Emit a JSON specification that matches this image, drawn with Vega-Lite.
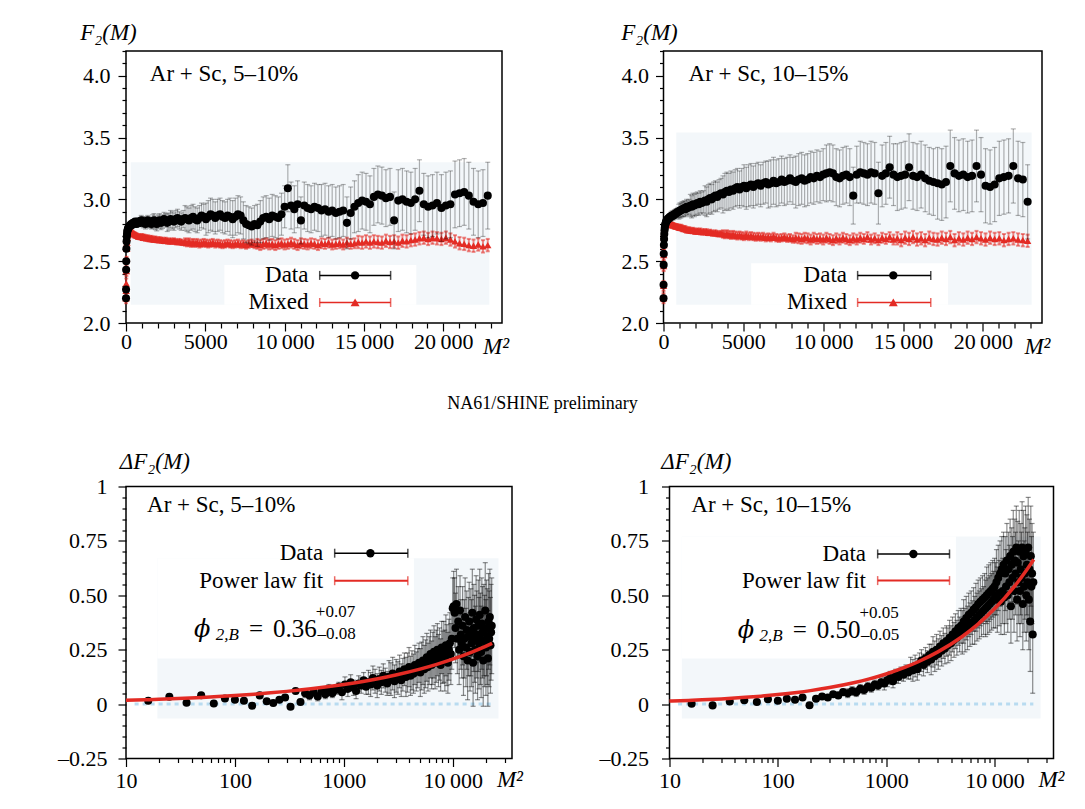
{
"$schema": "https://vega.github.io/schema/vega-lite/v6.json",
"background": "white",
"padding": {"left": 0, "top": 20, "right": 0, "bottom": 0},
"config": {
 "font": "Liberation Serif",
 "view": {"stroke": "black", "strokeWidth": 1.5},
 "axis": {"grid": false, "domain": false, "ticks": true, "tickColor": "black", "tickWidth": 1.2, "labelColor": "black", "labelFontSize": 22, "labelFont": "Liberation Serif", "titleFont": "Liberation Serif", "titleFontSize": 23, "titleFontWeight": "normal", "titleFontStyle": "italic", "titleColor": "black", "labelOverlap": false, "labelFlush": false, "labelBound": false},
 "text": {"font": "Liberation Serif", "fontSize": 23, "color": "black"}
},
"datasets": {
"top": [
{"x":1,"a":2.2,"ae":0.01,"b":2.2,"be":0.04,"c":2.2,"ce":0.01,"d":2.2,"de":0.04},
{"x":4,"a":2.27,"ae":0.01,"b":2.22,"be":0.04,"c":2.31,"ce":0.01,"d":2.3,"de":0.04},
{"x":9,"a":2.43,"ae":0.01,"b":2.26,"be":0.04,"c":2.47,"ce":0.01,"d":2.46,"de":0.04},
{"x":16,"a":2.5,"ae":0.01,"b":2.32,"be":0.04,"c":2.56,"ce":0.01,"d":2.55,"de":0.04},
{"x":25,"a":2.6,"ae":0.01,"b":2.42,"be":0.04,"c":2.63,"ce":0.01,"d":2.63,"de":0.04},
{"x":36,"a":2.66,"ae":0.01,"b":2.52,"be":0.015,"c":2.68,"ce":0.01,"d":2.69,"de":0.015},
{"x":49,"a":2.7,"ae":0.01,"b":2.6,"be":0.015,"c":2.72,"ce":0.01,"d":2.73,"de":0.015},
{"x":64,"a":2.72,"ae":0.01,"b":2.65,"be":0.015,"c":2.75,"ce":0.01,"d":2.76,"de":0.015},
{"x":81,"a":2.74,"ae":0.01,"b":2.69,"be":0.015,"c":2.77,"ce":0.01,"d":2.78,"de":0.015},
{"x":100,"a":2.75,"ae":0.01,"b":2.71,"be":0.015,"c":2.79,"ce":0.01,"d":2.79,"de":0.015},
{"x":121,"a":2.76,"ae":0.015,"b":2.73,"be":0.015,"c":2.8,"ce":0.02,"d":2.8,"de":0.015},
{"x":144,"a":2.77,"ae":0.015,"b":2.74,"be":0.015,"c":2.81,"ce":0.02,"d":2.8,"de":0.015},
{"x":169,"a":2.77,"ae":0.015,"b":2.745,"be":0.015,"c":2.82,"ce":0.02,"d":2.81,"de":0.015},
{"x":196,"a":2.78,"ae":0.015,"b":2.75,"be":0.015,"c":2.83,"ce":0.02,"d":2.81,"de":0.015},
{"x":225,"a":2.78,"ae":0.015,"b":2.75,"be":0.015,"c":2.83,"ce":0.02,"d":2.81,"de":0.015},
{"x":256,"a":2.79,"ae":0.015,"b":2.745,"be":0.015,"c":2.84,"ce":0.02,"d":2.8,"de":0.015},
{"x":289,"a":2.79,"ae":0.015,"b":2.74,"be":0.015,"c":2.84,"ce":0.02,"d":2.81,"de":0.015},
{"x":324,"a":2.8,"ae":0.015,"b":2.74,"be":0.015,"c":2.85,"ce":0.02,"d":2.8,"de":0.015},
{"x":361,"a":2.79,"ae":0.015,"b":2.735,"be":0.015,"c":2.85,"ce":0.02,"d":2.8,"de":0.015},
{"x":400,"a":2.8,"ae":0.015,"b":2.73,"be":0.015,"c":2.86,"ce":0.02,"d":2.8,"de":0.015},
{"x":441,"a":2.81,"ae":0.025,"b":2.725,"be":0.015,"c":2.86,"ce":0.035,"d":2.795,"de":0.015},
{"x":484,"a":2.8,"ae":0.025,"b":2.72,"be":0.015,"c":2.86,"ce":0.035,"d":2.8,"de":0.015},
{"x":529,"a":2.81,"ae":0.025,"b":2.72,"be":0.015,"c":2.87,"ce":0.035,"d":2.79,"de":0.015},
{"x":576,"a":2.82,"ae":0.025,"b":2.715,"be":0.015,"c":2.87,"ce":0.035,"d":2.795,"de":0.015},
{"x":625,"a":2.81,"ae":0.025,"b":2.71,"be":0.015,"c":2.87,"ce":0.035,"d":2.79,"de":0.015},
{"x":676,"a":2.8,"ae":0.025,"b":2.71,"be":0.015,"c":2.88,"ce":0.035,"d":2.79,"de":0.015},
{"x":729,"a":2.82,"ae":0.025,"b":2.705,"be":0.015,"c":2.88,"ce":0.035,"d":2.785,"de":0.015},
{"x":784,"a":2.81,"ae":0.025,"b":2.7,"be":0.015,"c":2.89,"ce":0.035,"d":2.78,"de":0.015},
{"x":841,"a":2.82,"ae":0.025,"b":2.7,"be":0.015,"c":2.89,"ce":0.035,"d":2.785,"de":0.015},
{"x":900,"a":2.81,"ae":0.025,"b":2.7,"be":0.015,"c":2.9,"ce":0.035,"d":2.78,"de":0.015},
{"x":961,"a":2.83,"ae":0.04,"b":2.695,"be":0.02,"c":2.9,"ce":0.06,"d":2.775,"de":0.02},
{"x":1024,"a":2.82,"ae":0.04,"b":2.7,"be":0.02,"c":2.91,"ce":0.06,"d":2.77,"de":0.02},
{"x":1089,"a":2.81,"ae":0.04,"b":2.69,"be":0.02,"c":2.91,"ce":0.06,"d":2.775,"de":0.02},
{"x":1156,"a":2.82,"ae":0.04,"b":2.695,"be":0.02,"c":2.92,"ce":0.06,"d":2.77,"de":0.02},
{"x":1225,"a":2.8,"ae":0.04,"b":2.69,"be":0.02,"c":2.92,"ce":0.06,"d":2.765,"de":0.02},
{"x":1296,"a":2.81,"ae":0.04,"b":2.685,"be":0.02,"c":2.93,"ce":0.06,"d":2.76,"de":0.02},
{"x":1369,"a":2.83,"ae":0.04,"b":2.69,"be":0.02,"c":2.92,"ce":0.06,"d":2.765,"de":0.02},
{"x":1444,"a":2.82,"ae":0.04,"b":2.685,"be":0.02,"c":2.94,"ce":0.06,"d":2.755,"de":0.02},
{"x":1521,"a":2.81,"ae":0.04,"b":2.68,"be":0.02,"c":2.93,"ce":0.06,"d":2.75,"de":0.02},
{"x":1600,"a":2.8,"ae":0.04,"b":2.685,"be":0.02,"c":2.94,"ce":0.06,"d":2.755,"de":0.02},
{"x":1681,"a":2.82,"ae":0.055,"b":2.68,"be":0.02,"c":2.95,"ce":0.09,"d":2.75,"de":0.02},
{"x":1764,"a":2.83,"ae":0.055,"b":2.675,"be":0.02,"c":2.94,"ce":0.09,"d":2.745,"de":0.02},
{"x":1849,"a":2.81,"ae":0.055,"b":2.68,"be":0.02,"c":2.96,"ce":0.09,"d":2.75,"de":0.02},
{"x":1936,"a":2.8,"ae":0.055,"b":2.675,"be":0.02,"c":2.95,"ce":0.09,"d":2.745,"de":0.02},
{"x":2025,"a":2.82,"ae":0.055,"b":2.67,"be":0.02,"c":2.96,"ce":0.09,"d":2.74,"de":0.02},
{"x":2116,"a":2.83,"ae":0.055,"b":2.675,"be":0.02,"c":2.97,"ce":0.09,"d":2.745,"de":0.02},
{"x":2209,"a":2.81,"ae":0.055,"b":2.67,"be":0.02,"c":2.96,"ce":0.09,"d":2.74,"de":0.02},
{"x":2304,"a":2.82,"ae":0.055,"b":2.67,"be":0.02,"c":2.98,"ce":0.09,"d":2.745,"de":0.02},
{"x":2401,"a":2.84,"ae":0.055,"b":2.665,"be":0.02,"c":2.97,"ce":0.09,"d":2.735,"de":0.02},
{"x":2500,"a":2.83,"ae":0.055,"b":2.67,"be":0.02,"c":2.98,"ce":0.09,"d":2.74,"de":0.02},
{"x":2601,"a":2.81,"ae":0.07,"b":2.665,"be":0.02,"c":2.99,"ce":0.12,"d":2.735,"de":0.02},
{"x":2704,"a":2.82,"ae":0.07,"b":2.66,"be":0.02,"c":2.98,"ce":0.12,"d":2.74,"de":0.02},
{"x":2809,"a":2.84,"ae":0.07,"b":2.665,"be":0.02,"c":3.0,"ce":0.12,"d":2.73,"de":0.02},
{"x":2916,"a":2.83,"ae":0.07,"b":2.66,"be":0.02,"c":3.01,"ce":0.12,"d":2.735,"de":0.02},
{"x":3025,"a":2.82,"ae":0.07,"b":2.665,"be":0.02,"c":3.0,"ce":0.12,"d":2.73,"de":0.02},
{"x":3136,"a":2.84,"ae":0.07,"b":2.66,"be":0.02,"c":3.02,"ce":0.12,"d":2.725,"de":0.02},
{"x":3249,"a":2.85,"ae":0.07,"b":2.655,"be":0.02,"c":3.03,"ce":0.12,"d":2.73,"de":0.02},
{"x":3364,"a":2.83,"ae":0.07,"b":2.66,"be":0.02,"c":3.02,"ce":0.12,"d":2.725,"de":0.02},
{"x":3481,"a":2.82,"ae":0.07,"b":2.655,"be":0.02,"c":3.04,"ce":0.12,"d":2.72,"de":0.02},
{"x":3600,"a":2.84,"ae":0.07,"b":2.65,"be":0.02,"c":3.05,"ce":0.12,"d":2.725,"de":0.02},
{"x":3721,"a":2.85,"ae":0.1,"b":2.655,"be":0.03,"c":3.04,"ce":0.15,"d":2.72,"de":0.03},
{"x":3844,"a":2.84,"ae":0.1,"b":2.65,"be":0.03,"c":3.06,"ce":0.15,"d":2.715,"de":0.03},
{"x":3969,"a":2.83,"ae":0.1,"b":2.655,"be":0.03,"c":3.07,"ce":0.15,"d":2.72,"de":0.03},
{"x":4096,"a":2.85,"ae":0.1,"b":2.645,"be":0.03,"c":3.06,"ce":0.15,"d":2.715,"de":0.03},
{"x":4225,"a":2.86,"ae":0.1,"b":2.65,"be":0.03,"c":3.08,"ce":0.15,"d":2.71,"de":0.03},
{"x":4356,"a":2.84,"ae":0.1,"b":2.645,"be":0.03,"c":3.07,"ce":0.15,"d":2.715,"de":0.03},
{"x":4489,"a":2.83,"ae":0.1,"b":2.65,"be":0.03,"c":3.09,"ce":0.15,"d":2.71,"de":0.03},
{"x":4624,"a":2.85,"ae":0.1,"b":2.64,"be":0.03,"c":3.1,"ce":0.15,"d":2.705,"de":0.03},
{"x":4761,"a":2.87,"ae":0.1,"b":2.645,"be":0.03,"c":3.08,"ce":0.15,"d":2.71,"de":0.03},
{"x":4900,"a":2.86,"ae":0.1,"b":2.65,"be":0.03,"c":3.1,"ce":0.15,"d":2.705,"de":0.03},
{"x":5041,"a":2.84,"ae":0.13,"b":2.645,"be":0.03,"c":3.11,"ce":0.17,"d":2.7,"de":0.03},
{"x":5184,"a":2.86,"ae":0.13,"b":2.64,"be":0.03,"c":3.09,"ce":0.17,"d":2.71,"de":0.03},
{"x":5329,"a":2.88,"ae":0.13,"b":2.645,"be":0.03,"c":3.11,"ce":0.17,"d":2.7,"de":0.03},
{"x":5476,"a":2.87,"ae":0.13,"b":2.65,"be":0.03,"c":3.12,"ce":0.17,"d":2.705,"de":0.03},
{"x":5625,"a":2.85,"ae":0.13,"b":2.64,"be":0.03,"c":3.1,"ce":0.17,"d":2.7,"de":0.03},
{"x":5776,"a":2.87,"ae":0.13,"b":2.645,"be":0.03,"c":3.12,"ce":0.17,"d":2.695,"de":0.03},
{"x":5929,"a":2.88,"ae":0.13,"b":2.64,"be":0.03,"c":3.13,"ce":0.17,"d":2.7,"de":0.03},
{"x":6084,"a":2.86,"ae":0.13,"b":2.635,"be":0.03,"c":3.11,"ce":0.17,"d":2.695,"de":0.03},
{"x":6241,"a":2.85,"ae":0.13,"b":2.64,"be":0.03,"c":3.13,"ce":0.17,"d":2.7,"de":0.03},
{"x":6400,"a":2.87,"ae":0.13,"b":2.645,"be":0.03,"c":3.14,"ce":0.17,"d":2.69,"de":0.03},
{"x":6561,"a":2.86,"ae":0.15,"b":2.64,"be":0.03,"c":3.12,"ce":0.19,"d":2.695,"de":0.03},
{"x":6724,"a":2.84,"ae":0.15,"b":2.635,"be":0.03,"c":3.13,"ce":0.19,"d":2.69,"de":0.03},
{"x":6889,"a":2.86,"ae":0.15,"b":2.64,"be":0.03,"c":3.15,"ce":0.19,"d":2.7,"de":0.03},
{"x":7056,"a":2.88,"ae":0.15,"b":2.645,"be":0.03,"c":3.13,"ce":0.19,"d":2.69,"de":0.03},
{"x":7225,"a":2.87,"ae":0.15,"b":2.635,"be":0.03,"c":3.14,"ce":0.19,"d":2.685,"de":0.03},
{"x":7396,"a":2.83,"ae":0.15,"b":2.64,"be":0.03,"c":3.16,"ce":0.19,"d":2.69,"de":0.03},
{"x":7569,"a":2.8,"ae":0.15,"b":2.63,"be":0.03,"c":3.14,"ce":0.19,"d":2.695,"de":0.03},
{"x":7744,"a":2.79,"ae":0.15,"b":2.64,"be":0.03,"c":3.15,"ce":0.19,"d":2.685,"de":0.03},
{"x":7921,"a":2.78,"ae":0.15,"b":2.645,"be":0.03,"c":3.17,"ce":0.19,"d":2.69,"de":0.03},
{"x":8100,"a":2.8,"ae":0.15,"b":2.635,"be":0.03,"c":3.15,"ce":0.19,"d":2.68,"de":0.03},
{"x":8281,"a":2.79,"ae":0.17,"b":2.64,"be":0.04,"c":3.14,"ce":0.21,"d":2.69,"de":0.04},
{"x":8464,"a":2.82,"ae":0.17,"b":2.63,"be":0.04,"c":3.16,"ce":0.21,"d":2.685,"de":0.04},
{"x":8649,"a":2.85,"ae":0.17,"b":2.64,"be":0.04,"c":3.17,"ce":0.21,"d":2.68,"de":0.04},
{"x":8836,"a":2.86,"ae":0.17,"b":2.645,"be":0.04,"c":3.15,"ce":0.21,"d":2.69,"de":0.04},
{"x":9025,"a":2.84,"ae":0.17,"b":2.635,"be":0.04,"c":3.16,"ce":0.21,"d":2.685,"de":0.04},
{"x":9216,"a":2.87,"ae":0.17,"b":2.64,"be":0.04,"c":3.18,"ce":0.21,"d":2.675,"de":0.04},
{"x":9409,"a":2.86,"ae":0.17,"b":2.63,"be":0.04,"c":3.17,"ce":0.21,"d":2.69,"de":0.04},
{"x":9604,"a":2.85,"ae":0.17,"b":2.64,"be":0.04,"c":3.19,"ce":0.21,"d":2.68,"de":0.04},
{"x":9801,"a":2.88,"ae":0.17,"b":2.645,"be":0.04,"c":3.18,"ce":0.21,"d":2.685,"de":0.04},
{"x":10000,"a":2.94,"ae":0.17,"b":2.635,"be":0.04,"c":3.2,"ce":0.21,"d":2.675,"de":0.04},
{"x":10201,"a":3.09,"ae":0.19,"b":2.64,"be":0.04,"c":3.21,"ce":0.23,"d":2.69,"de":0.04},
{"x":10404,"a":2.95,"ae":0.19,"b":2.65,"be":0.04,"c":3.22,"ce":0.23,"d":2.68,"de":0.04},
{"x":10609,"a":2.92,"ae":0.19,"b":2.64,"be":0.04,"c":3.21,"ce":0.23,"d":2.67,"de":0.04},
{"x":10816,"a":2.96,"ae":0.19,"b":2.63,"be":0.04,"c":3.18,"ce":0.23,"d":2.685,"de":0.04},
{"x":11025,"a":2.83,"ae":0.19,"b":2.645,"be":0.04,"c":3.17,"ce":0.23,"d":2.675,"de":0.04},
{"x":11236,"a":2.95,"ae":0.19,"b":2.64,"be":0.04,"c":3.19,"ce":0.23,"d":2.69,"de":0.04},
{"x":11449,"a":2.93,"ae":0.19,"b":2.635,"be":0.04,"c":3.2,"ce":0.23,"d":2.68,"de":0.04},
{"x":11664,"a":2.92,"ae":0.19,"b":2.645,"be":0.04,"c":3.18,"ce":0.23,"d":2.67,"de":0.04},
{"x":11881,"a":2.94,"ae":0.19,"b":2.64,"be":0.04,"c":3.03,"ce":0.23,"d":2.685,"de":0.04},
{"x":12100,"a":2.93,"ae":0.19,"b":2.63,"be":0.04,"c":3.2,"ce":0.23,"d":2.675,"de":0.04},
{"x":12321,"a":2.91,"ae":0.21,"b":2.645,"be":0.04,"c":3.22,"ce":0.25,"d":2.69,"de":0.04},
{"x":12544,"a":2.92,"ae":0.21,"b":2.64,"be":0.04,"c":3.21,"ce":0.25,"d":2.68,"de":0.04},
{"x":12769,"a":2.9,"ae":0.21,"b":2.65,"be":0.04,"c":3.2,"ce":0.25,"d":2.695,"de":0.04},
{"x":12996,"a":2.91,"ae":0.21,"b":2.635,"be":0.04,"c":3.22,"ce":0.25,"d":2.675,"de":0.04},
{"x":13225,"a":2.89,"ae":0.21,"b":2.64,"be":0.04,"c":3.21,"ce":0.25,"d":2.685,"de":0.04},
{"x":13456,"a":2.9,"ae":0.21,"b":2.645,"be":0.04,"c":3.05,"ce":0.25,"d":2.67,"de":0.04},
{"x":13689,"a":2.91,"ae":0.21,"b":2.635,"be":0.04,"c":3.19,"ce":0.25,"d":2.69,"de":0.04},
{"x":13924,"a":2.81,"ae":0.21,"b":2.65,"be":0.04,"c":3.21,"ce":0.25,"d":2.68,"de":0.04},
{"x":14161,"a":2.89,"ae":0.21,"b":2.64,"be":0.04,"c":3.26,"ce":0.25,"d":2.695,"de":0.04},
{"x":14400,"a":2.94,"ae":0.21,"b":2.645,"be":0.04,"c":3.2,"ce":0.25,"d":2.675,"de":0.04},
{"x":14641,"a":2.97,"ae":0.23,"b":2.655,"be":0.05,"c":3.18,"ce":0.27,"d":2.685,"de":0.05},
{"x":14884,"a":2.99,"ae":0.23,"b":2.65,"be":0.05,"c":3.19,"ce":0.27,"d":2.67,"de":0.05},
{"x":15129,"a":2.98,"ae":0.23,"b":2.66,"be":0.05,"c":3.2,"ce":0.27,"d":2.69,"de":0.05},
{"x":15376,"a":2.96,"ae":0.23,"b":2.65,"be":0.05,"c":3.26,"ce":0.27,"d":2.68,"de":0.05},
{"x":15625,"a":3.02,"ae":0.23,"b":2.66,"be":0.05,"c":3.19,"ce":0.27,"d":2.695,"de":0.05},
{"x":15876,"a":3.04,"ae":0.23,"b":2.655,"be":0.05,"c":3.18,"ce":0.27,"d":2.675,"de":0.05},
{"x":16129,"a":3.03,"ae":0.23,"b":2.65,"be":0.05,"c":3.2,"ce":0.27,"d":2.685,"de":0.05},
{"x":16384,"a":3.01,"ae":0.23,"b":2.665,"be":0.05,"c":3.17,"ce":0.27,"d":2.67,"de":0.05},
{"x":16641,"a":3.02,"ae":0.23,"b":2.655,"be":0.05,"c":3.15,"ce":0.27,"d":2.69,"de":0.05},
{"x":16900,"a":2.83,"ae":0.23,"b":2.66,"be":0.05,"c":3.14,"ce":0.27,"d":2.68,"de":0.05},
{"x":17161,"a":2.99,"ae":0.25,"b":2.65,"be":0.05,"c":3.13,"ce":0.29,"d":2.675,"de":0.05},
{"x":17424,"a":3.0,"ae":0.25,"b":2.665,"be":0.05,"c":3.12,"ce":0.29,"d":2.69,"de":0.05},
{"x":17689,"a":2.98,"ae":0.25,"b":2.66,"be":0.05,"c":3.14,"ce":0.29,"d":2.68,"de":0.05},
{"x":17956,"a":2.97,"ae":0.25,"b":2.67,"be":0.05,"c":3.27,"ce":0.29,"d":2.695,"de":0.05},
{"x":18225,"a":3.0,"ae":0.25,"b":2.675,"be":0.05,"c":3.21,"ce":0.29,"d":2.67,"de":0.05},
{"x":18496,"a":3.07,"ae":0.25,"b":2.685,"be":0.05,"c":3.19,"ce":0.29,"d":2.685,"de":0.05},
{"x":18769,"a":2.96,"ae":0.25,"b":2.69,"be":0.05,"c":3.2,"ce":0.29,"d":2.675,"de":0.05},
{"x":19044,"a":2.94,"ae":0.25,"b":2.68,"be":0.05,"c":3.18,"ce":0.29,"d":2.69,"de":0.05},
{"x":19321,"a":2.95,"ae":0.25,"b":2.69,"be":0.05,"c":3.19,"ce":0.29,"d":2.68,"de":0.05},
{"x":19600,"a":2.97,"ae":0.25,"b":2.685,"be":0.05,"c":3.27,"ce":0.29,"d":2.695,"de":0.05},
{"x":19881,"a":2.93,"ae":0.27,"b":2.68,"be":0.05,"c":3.2,"ce":0.3,"d":2.685,"de":0.05},
{"x":20164,"a":2.95,"ae":0.27,"b":2.69,"be":0.05,"c":3.11,"ce":0.3,"d":2.675,"de":0.05},
{"x":20449,"a":2.96,"ae":0.27,"b":2.675,"be":0.05,"c":3.1,"ce":0.3,"d":2.69,"de":0.05},
{"x":20736,"a":3.04,"ae":0.27,"b":2.66,"be":0.05,"c":3.12,"ce":0.3,"d":2.68,"de":0.05},
{"x":21025,"a":3.05,"ae":0.27,"b":2.645,"be":0.05,"c":3.17,"ce":0.3,"d":2.685,"de":0.05},
{"x":21316,"a":3.06,"ae":0.27,"b":2.64,"be":0.05,"c":3.18,"ce":0.3,"d":2.67,"de":0.05},
{"x":21609,"a":3.03,"ae":0.27,"b":2.63,"be":0.05,"c":3.19,"ce":0.3,"d":2.68,"de":0.05},
{"x":21904,"a":2.98,"ae":0.27,"b":2.625,"be":0.05,"c":3.27,"ce":0.3,"d":2.685,"de":0.05},
{"x":22201,"a":2.96,"ae":0.27,"b":2.635,"be":0.05,"c":3.17,"ce":0.3,"d":2.675,"de":0.05},
{"x":22500,"a":2.97,"ae":0.27,"b":2.62,"be":0.05,"c":3.16,"ce":0.3,"d":2.67,"de":0.05},
{"x":22801,"a":3.03,"ae":0.27,"b":2.63,"be":0.05,"c":2.98,"ce":0.3,"d":2.665,"de":0.05}
],
"bot": [
{"x":16,"f":0.015,"fe":0.012,"g":0.002,"ge":0.012},
{"x":25,"f":0.034,"fe":0.012,"g":-0.006,"ge":0.012},
{"x":36,"f":0.006,"fe":0.012,"g":0.012,"ge":0.012},
{"x":49,"f":0.041,"fe":0.012,"g":0.018,"ge":0.012},
{"x":64,"f":0.003,"fe":0.012,"g":0.01,"ge":0.012},
{"x":81,"f":0.026,"fe":0.012,"g":0.022,"ge":0.012},
{"x":100,"f":0.02,"fe":0.012,"g":0.015,"ge":0.012},
{"x":121,"f":0.015,"fe":0.012,"g":0.025,"ge":0.012},
{"x":144,"f":-0.008,"fe":0.012,"g":0.02,"ge":0.012},
{"x":169,"f":0.04,"fe":0.012,"g":0.03,"ge":0.012},
{"x":196,"f":0.013,"fe":0.012,"g":-0.005,"ge":0.012},
{"x":225,"f":0.005,"fe":0.012,"g":0.025,"ge":0.012},
{"x":256,"f":0.02,"fe":0.012,"g":0.035,"ge":0.012},
{"x":289,"f":0.03,"fe":0.012,"g":0.03,"ge":0.012},
{"x":324,"f":-0.012,"fe":0.012,"g":0.045,"ge":0.012},
{"x":361,"f":0.06,"fe":0.012,"g":0.04,"ge":0.012},
{"x":400,"f":0.01,"fe":0.012,"g":0.055,"ge":0.012},
{"x":441,"f":0.05,"fe":0.02,"g":0.05,"ge":0.02},
{"x":484,"f":0.04,"fe":0.02,"g":0.06,"ge":0.02},
{"x":529,"f":0.055,"fe":0.02,"g":0.055,"ge":0.02},
{"x":576,"f":0.035,"fe":0.02,"g":0.07,"ge":0.02},
{"x":625,"f":0.06,"fe":0.02,"g":0.065,"ge":0.02},
{"x":676,"f":0.045,"fe":0.02,"g":0.08,"ge":0.02},
{"x":729,"f":0.07,"fe":0.02,"g":0.075,"ge":0.02},
{"x":784,"f":0.05,"fe":0.02,"g":0.09,"ge":0.02},
{"x":841,"f":0.065,"fe":0.02,"g":0.085,"ge":0.02},
{"x":900,"f":0.08,"fe":0.02,"g":0.1,"ge":0.02},
{"x":961,"f":0.055,"fe":0.035,"g":0.095,"ge":0.03},
{"x":1024,"f":0.09,"fe":0.035,"g":0.11,"ge":0.03},
{"x":1089,"f":0.07,"fe":0.035,"g":0.12,"ge":0.03},
{"x":1156,"f":0.1,"fe":0.035,"g":0.105,"ge":0.03},
{"x":1225,"f":0.075,"fe":0.035,"g":0.13,"ge":0.03},
{"x":1296,"f":0.06,"fe":0.035,"g":0.125,"ge":0.03},
{"x":1369,"f":0.095,"fe":0.035,"g":0.14,"ge":0.03},
{"x":1444,"f":0.085,"fe":0.035,"g":0.135,"ge":0.03},
{"x":1521,"f":0.11,"fe":0.035,"g":0.15,"ge":0.03},
{"x":1600,"f":0.08,"fe":0.035,"g":0.145,"ge":0.03},
{"x":1681,"f":0.1,"fe":0.055,"g":0.165,"ge":0.05},
{"x":1764,"f":0.09,"fe":0.055,"g":0.155,"ge":0.05},
{"x":1849,"f":0.12,"fe":0.055,"g":0.175,"ge":0.05},
{"x":1936,"f":0.105,"fe":0.055,"g":0.16,"ge":0.05},
{"x":2025,"f":0.085,"fe":0.055,"g":0.185,"ge":0.05},
{"x":2116,"f":0.115,"fe":0.055,"g":0.2,"ge":0.05},
{"x":2209,"f":0.1,"fe":0.055,"g":0.18,"ge":0.05},
{"x":2304,"f":0.13,"fe":0.055,"g":0.21,"ge":0.05},
{"x":2401,"f":0.11,"fe":0.055,"g":0.195,"ge":0.05},
{"x":2500,"f":0.095,"fe":0.055,"g":0.225,"ge":0.05},
{"x":2601,"f":0.125,"fe":0.075,"g":0.205,"ge":0.07},
{"x":2704,"f":0.115,"fe":0.075,"g":0.24,"ge":0.07},
{"x":2809,"f":0.14,"fe":0.075,"g":0.22,"ge":0.07},
{"x":2916,"f":0.105,"fe":0.075,"g":0.25,"ge":0.07},
{"x":3025,"f":0.13,"fe":0.075,"g":0.23,"ge":0.07},
{"x":3136,"f":0.12,"fe":0.075,"g":0.265,"ge":0.07},
{"x":3249,"f":0.15,"fe":0.075,"g":0.245,"ge":0.07},
{"x":3364,"f":0.11,"fe":0.075,"g":0.28,"ge":0.07},
{"x":3481,"f":0.135,"fe":0.075,"g":0.255,"ge":0.07},
{"x":3600,"f":0.16,"fe":0.075,"g":0.29,"ge":0.07},
{"x":3721,"f":0.125,"fe":0.09,"g":0.27,"ge":0.08},
{"x":3844,"f":0.145,"fe":0.09,"g":0.305,"ge":0.08},
{"x":3969,"f":0.17,"fe":0.09,"g":0.28,"ge":0.08},
{"x":4096,"f":0.13,"fe":0.09,"g":0.32,"ge":0.08},
{"x":4225,"f":0.155,"fe":0.09,"g":0.295,"ge":0.08},
{"x":4356,"f":0.14,"fe":0.09,"g":0.335,"ge":0.08},
{"x":4489,"f":0.18,"fe":0.09,"g":0.305,"ge":0.08},
{"x":4624,"f":0.15,"fe":0.09,"g":0.35,"ge":0.08},
{"x":4761,"f":0.165,"fe":0.09,"g":0.32,"ge":0.08},
{"x":4900,"f":0.19,"fe":0.09,"g":0.36,"ge":0.08},
{"x":5041,"f":0.145,"fe":0.11,"g":0.33,"ge":0.1},
{"x":5184,"f":0.175,"fe":0.11,"g":0.38,"ge":0.1},
{"x":5329,"f":0.2,"fe":0.11,"g":0.34,"ge":0.1},
{"x":5476,"f":0.16,"fe":0.11,"g":0.395,"ge":0.1},
{"x":5625,"f":0.185,"fe":0.11,"g":0.35,"ge":0.1},
{"x":5776,"f":0.215,"fe":0.11,"g":0.41,"ge":0.1},
{"x":5929,"f":0.17,"fe":0.11,"g":0.365,"ge":0.1},
{"x":6084,"f":0.2,"fe":0.11,"g":0.42,"ge":0.1},
{"x":6241,"f":0.23,"fe":0.11,"g":0.375,"ge":0.1},
{"x":6400,"f":0.18,"fe":0.11,"g":0.435,"ge":0.1},
{"x":6561,"f":0.21,"fe":0.12,"g":0.385,"ge":0.11},
{"x":6724,"f":0.24,"fe":0.12,"g":0.445,"ge":0.11},
{"x":6889,"f":0.19,"fe":0.12,"g":0.4,"ge":0.11},
{"x":7056,"f":0.22,"fe":0.12,"g":0.46,"ge":0.11},
{"x":7225,"f":0.25,"fe":0.12,"g":0.41,"ge":0.11},
{"x":7396,"f":0.2,"fe":0.12,"g":0.47,"ge":0.11},
{"x":7569,"f":0.23,"fe":0.12,"g":0.42,"ge":0.11},
{"x":7744,"f":0.18,"fe":0.12,"g":0.48,"ge":0.11},
{"x":7921,"f":0.26,"fe":0.12,"g":0.43,"ge":0.11},
{"x":8100,"f":0.215,"fe":0.12,"g":0.49,"ge":0.11},
{"x":8281,"f":0.24,"fe":0.14,"g":0.44,"ge":0.13},
{"x":8464,"f":0.2,"fe":0.14,"g":0.5,"ge":0.13},
{"x":8649,"f":0.27,"fe":0.14,"g":0.45,"ge":0.13},
{"x":8836,"f":0.225,"fe":0.14,"g":0.51,"ge":0.13},
{"x":9025,"f":0.19,"fe":0.14,"g":0.46,"ge":0.13},
{"x":9216,"f":0.25,"fe":0.14,"g":0.52,"ge":0.13},
{"x":9409,"f":0.28,"fe":0.14,"g":0.47,"ge":0.13},
{"x":9604,"f":0.23,"fe":0.14,"g":0.53,"ge":0.13},
{"x":9801,"f":0.3,"fe":0.14,"g":0.48,"ge":0.13},
{"x":10000,"f":0.44,"fe":0.14,"g":0.54,"ge":0.13},
{"x":10201,"f":0.45,"fe":0.16,"g":0.5,"ge":0.15},
{"x":10404,"f":0.42,"fe":0.16,"g":0.56,"ge":0.15},
{"x":10609,"f":0.35,"fe":0.16,"g":0.48,"ge":0.15},
{"x":10816,"f":0.46,"fe":0.16,"g":0.58,"ge":0.15},
{"x":11025,"f":0.3,"fe":0.16,"g":0.51,"ge":0.15},
{"x":11236,"f":0.38,"fe":0.16,"g":0.6,"ge":0.15},
{"x":11449,"f":0.25,"fe":0.16,"g":0.47,"ge":0.15},
{"x":11664,"f":0.43,"fe":0.16,"g":0.62,"ge":0.15},
{"x":11881,"f":0.32,"fe":0.16,"g":0.52,"ge":0.15},
{"x":12100,"f":0.28,"fe":0.16,"g":0.64,"ge":0.15},
{"x":12321,"f":0.36,"fe":0.18,"g":0.49,"ge":0.17},
{"x":12544,"f":0.22,"fe":0.18,"g":0.6,"ge":0.17},
{"x":12769,"f":0.3,"fe":0.18,"g":0.54,"ge":0.17},
{"x":12996,"f":0.4,"fe":0.18,"g":0.66,"ge":0.17},
{"x":13225,"f":0.26,"fe":0.18,"g":0.5,"ge":0.17},
{"x":13456,"f":0.34,"fe":0.18,"g":0.62,"ge":0.17},
{"x":13689,"f":0.2,"fe":0.18,"g":0.56,"ge":0.17},
{"x":13924,"f":0.31,"fe":0.18,"g":0.68,"ge":0.17},
{"x":14161,"f":0.38,"fe":0.18,"g":0.45,"ge":0.17},
{"x":14400,"f":0.24,"fe":0.18,"g":0.64,"ge":0.17},
{"x":14641,"f":0.33,"fe":0.2,"g":0.58,"ge":0.19},
{"x":14884,"f":0.28,"fe":0.2,"g":0.7,"ge":0.19},
{"x":15129,"f":0.42,"fe":0.2,"g":0.52,"ge":0.19},
{"x":15376,"f":0.19,"fe":0.2,"g":0.66,"ge":0.19},
{"x":15625,"f":0.35,"fe":0.2,"g":0.6,"ge":0.19},
{"x":15876,"f":0.3,"fe":0.2,"g":0.72,"ge":0.19},
{"x":16129,"f":0.25,"fe":0.2,"g":0.48,"ge":0.19},
{"x":16384,"f":0.39,"fe":0.2,"g":0.65,"ge":0.19},
{"x":16641,"f":0.32,"fe":0.2,"g":0.56,"ge":0.19},
{"x":16900,"f":0.22,"fe":0.2,"g":0.7,"ge":0.19},
{"x":17161,"f":0.36,"fe":0.21,"g":0.52,"ge":0.21},
{"x":17424,"f":0.28,"fe":0.21,"g":0.62,"ge":0.21},
{"x":17689,"f":0.41,"fe":0.21,"g":0.58,"ge":0.21},
{"x":17956,"f":0.3,"fe":0.21,"g":0.72,"ge":0.21},
{"x":18225,"f":0.24,"fe":0.21,"g":0.46,"ge":0.21},
{"x":18496,"f":0.37,"fe":0.21,"g":0.68,"ge":0.21},
{"x":18769,"f":0.33,"fe":0.21,"g":0.54,"ge":0.21},
{"x":19044,"f":0.2,"fe":0.21,"g":0.6,"ge":0.21},
{"x":19321,"f":0.34,"fe":0.21,"g":0.7,"ge":0.21},
{"x":19600,"f":0.29,"fe":0.21,"g":0.5,"ge":0.21},
{"x":19881,"f":0.43,"fe":0.22,"g":0.64,"ge":0.23},
{"x":20164,"f":0.26,"fe":0.22,"g":0.56,"ge":0.23},
{"x":20449,"f":0.35,"fe":0.22,"g":0.72,"ge":0.23},
{"x":20736,"f":0.31,"fe":0.22,"g":0.48,"ge":0.23},
{"x":21025,"f":0.21,"fe":0.22,"g":0.62,"ge":0.23},
{"x":21316,"f":0.38,"fe":0.22,"g":0.38,"ge":0.23},
{"x":21609,"f":0.3,"fe":0.22,"g":0.68,"ge":0.23},
{"x":21904,"f":0.4,"fe":0.22,"g":0.54,"ge":0.23},
{"x":22201,"f":0.27,"fe":0.22,"g":0.6,"ge":0.23},
{"x":22500,"f":0.33,"fe":0.22,"g":0.32,"ge":0.27},
{"x":22801,"f":0.36,"fe":0.22,"g":0.56,"ge":0.23}
],
"fitL": [
{"x":10,"y":0.0172},{"x":15,"y":0.0199},{"x":20,"y":0.0221},{"x":30,"y":0.0255},{"x":50,"y":0.0307},{"x":70,"y":0.0346},{"x":100,"y":0.0394},{"x":150,"y":0.0456},{"x":200,"y":0.0505},{"x":300,"y":0.0585},{"x":500,"y":0.0703},{"x":700,"y":0.0793},{"x":1000,"y":0.0902},{"x":1500,"y":0.1043},{"x":2000,"y":0.1157},{"x":3000,"y":0.1339},{"x":5000,"y":0.161},{"x":7000,"y":0.1817},{"x":10000,"y":0.2066},{"x":15000,"y":0.239},{"x":20000,"y":0.265},{"x":23000,"y":0.279}
],
"fitR": [
{"x":10,"y":0.0139},{"x":15,"y":0.017},{"x":20,"y":0.0196},{"x":30,"y":0.024},{"x":50,"y":0.031},{"x":70,"y":0.0366},{"x":100,"y":0.0438},{"x":150,"y":0.0536},{"x":200,"y":0.0619},{"x":300,"y":0.0759},{"x":500,"y":0.0979},{"x":700,"y":0.1159},{"x":1000,"y":0.1385},{"x":1500,"y":0.1696},{"x":2000,"y":0.1959},{"x":3000,"y":0.2399},{"x":5000,"y":0.3097},{"x":7000,"y":0.3665},{"x":10000,"y":0.438},{"x":15000,"y":0.5364},{"x":20000,"y":0.6194},{"x":23000,"y":0.6643}
]
},
"columns": 1,
"align": "none",
"spacing": 36.5,
"concat": [
{
 "hconcat": [
  {
   "width": 376, "height": 272,
   "layer": [
    {"data": {"values": [{}]}, "mark": {"type": "rect", "color": "#f3f7fa"}, "encoding": {"x": {"datum": 300}, "x2": {"datum": 22900}, "y": {"datum": 2.147}, "y2": {"datum": 3.3}}},
    {"data": {"values": [{}]}, "mark": {"type": "rect", "color": "white"}, "encoding": {"x": {"datum": 6200}, "x2": {"datum": 18300}, "y": {"datum": 2.147}, "y2": {"datum": 2.47}}},
    {"data": {"name": "top"}, "mark": {"type": "errorbar", "color": "#e32b24", "size": 4, "thickness": 2, "ticks": {"opacity": 0.55}, "rule": {"opacity": 0.55}}, "encoding": {"x": {"field": "x", "type": "quantitative", "title": "M²"}, "y": {"field": "b", "type": "quantitative", "title": "F₂(M)"}, "yError": {"field": "be"}}},
    {"data": {"name": "top"}, "mark": {"type": "point", "shape": "triangle-up", "filled": true, "color": "#e32b24", "size": 55, "opacity": 1}, "encoding": {"x": {"field": "x", "type": "quantitative", "title": "M²"}, "y": {"field": "b", "type": "quantitative", "title": "F₂(M)"}}},
    {"data": {"name": "top"}, "mark": {"type": "errorbar", "color": "black", "size": 5, "thickness": 1.2, "ticks": {"opacity": 0.3}, "rule": {"opacity": 0.3}}, "encoding": {"x": {"field": "x", "type": "quantitative", "title": "M²"}, "y": {"field": "a", "type": "quantitative", "title": "F₂(M)"}, "yError": {"field": "ae"}}},
    {"data": {"name": "top"}, "mark": {"type": "circle", "color": "black", "size": 65, "opacity": 1},
     "encoding": {
      "x": {"field": "x", "type": "quantitative", "scale": {"domain": [0, 23700], "nice": false, "zero": false},
            "axis": {"values": [0,1000,2000,3000,4000,5000,6000,7000,8000,9000,10000,11000,12000,13000,14000,15000,16000,17000,18000,19000,20000,21000,22000,23000], "tickCount": 100,
                     "labelExpr": "datum.value % 5000 != 0 ? '' : datum.value >= 10000 ? floor(datum.value / 1000) + '\u2009000' : '' + datum.value",
                     "tickSize": {"condition": {"test": "datum.value % 5000 == 0", "value": 8}, "value": 5},
                     "labelOverlap": false, "labelPadding": 0, "minExtent": 40, "maxExtent": 40,
                     "title": "M²", "titleX": 356.5, "titleY": 30, "titleAlign": "left", "titleBaseline": "alphabetic", "titleAngle": 0}},
      "y": {"field": "a", "type": "quantitative", "scale": {"domain": [2, 4.2], "nice": false, "zero": false},
            "axis": {"values": [2,2.1,2.2,2.3,2.4,2.5,2.6,2.7,2.8,2.9,3,3.1,3.2,3.3,3.4,3.5,3.6,3.7,3.8,3.9,4,4.1,4.2], "tickCount": 100,
                     "labelExpr": "abs(datum.value*2 - round(datum.value*2)) < 1e-6 ? format(datum.value, '.1f') : ''",
                     "tickSize": {"condition": {"test": "abs(datum.value*2 - round(datum.value*2)) < 1e-6", "value": 8}, "value": 4},
                     "labelOverlap": false, "labelPadding": 8, "minExtent": 125, "maxExtent": 125,
                     "title": "F₂(M)", "titleX": -46.3, "titleY": -12, "titleAlign": "left", "titleBaseline": "alphabetic", "titleAngle": 0}}
     }},
    {"data": {"values": [{}]}, "mark": {"type": "rule", "color": "black", "strokeWidth": 1.5}, "encoding": {"x": {"datum": 12210}, "x2": {"datum": 16680}, "y": {"datum": 2.385}}},
    {"data": {"values": [{}]}, "mark": {"type": "tick", "orient": "vertical", "color": "black", "size": 9, "thickness": 1.5}, "encoding": {"x": {"datum": 12210}, "y": {"datum": 2.385}}},
    {"data": {"values": [{}]}, "mark": {"type": "tick", "orient": "vertical", "color": "black", "size": 9, "thickness": 1.5}, "encoding": {"x": {"datum": 16680}, "y": {"datum": 2.385}}},
    {"data": {"values": [{}]}, "mark": {"type": "circle", "color": "black", "size": 70, "opacity": 1}, "encoding": {"x": {"datum": 14440}, "y": {"datum": 2.385}}},
    {"data": {"values": [{}]}, "mark": {"type": "rule", "color": "#e32b24", "strokeWidth": 1.5}, "encoding": {"x": {"datum": 12210}, "x2": {"datum": 16680}, "y": {"datum": 2.166}}},
    {"data": {"values": [{}]}, "mark": {"type": "tick", "orient": "vertical", "color": "#e32b24", "size": 9, "thickness": 1.5}, "encoding": {"x": {"datum": 12210}, "y": {"datum": 2.166}}},
    {"data": {"values": [{}]}, "mark": {"type": "tick", "orient": "vertical", "color": "#e32b24", "size": 9, "thickness": 1.5}, "encoding": {"x": {"datum": 16680}, "y": {"datum": 2.166}}},
    {"data": {"values": [{}]}, "mark": {"type": "point", "shape": "triangle-up", "filled": true, "color": "#e32b24", "size": 80, "opacity": 1}, "encoding": {"x": {"datum": 14440}, "y": {"datum": 2.166}}},
    {"data": {"values": [{}]}, "mark": {"type": "text", "text": "Data", "align": "right", "baseline": "middle"}, "encoding": {"x": {"datum": 11500}, "y": {"datum": 2.385}}},
    {"data": {"values": [{}]}, "mark": {"type": "text", "text": "Mixed", "align": "right", "baseline": "middle"}, "encoding": {"x": {"datum": 11500}, "y": {"datum": 2.166}}},
    {"data": {"values": [{}]}, "mark": {"type": "text", "text": "Ar + Sc, 5–10%", "align": "left", "baseline": "alphabetic"}, "encoding": {"x": {"datum": 1500}, "y": {"datum": 3.96}}}
   ]
  },
  {
   "width": 378.5, "height": 272,
   "layer": [
    {"data": {"values": [{}]}, "mark": {"type": "rect", "color": "#f3f7fa"}, "encoding": {"x": {"datum": 800}, "x2": {"datum": 23050}, "y": {"datum": 2.147}, "y2": {"datum": 3.54}}},
    {"data": {"values": [{}]}, "mark": {"type": "rect", "color": "white"}, "encoding": {"x": {"datum": 5490}, "x2": {"datum": 17820}, "y": {"datum": 2.147}, "y2": {"datum": 2.483}}},
    {"data": {"name": "top"}, "mark": {"type": "errorbar", "color": "#e32b24", "size": 4, "thickness": 2, "ticks": {"opacity": 0.55}, "rule": {"opacity": 0.55}}, "encoding": {"x": {"field": "x", "type": "quantitative", "title": "M²"}, "y": {"field": "d", "type": "quantitative", "title": "F₂(M)"}, "yError": {"field": "de"}}},
    {"data": {"name": "top"}, "mark": {"type": "point", "shape": "triangle-up", "filled": true, "color": "#e32b24", "size": 55, "opacity": 1}, "encoding": {"x": {"field": "x", "type": "quantitative", "title": "M²"}, "y": {"field": "d", "type": "quantitative", "title": "F₂(M)"}}},
    {"data": {"name": "top"}, "mark": {"type": "errorbar", "color": "black", "size": 5, "thickness": 1.2, "ticks": {"opacity": 0.3}, "rule": {"opacity": 0.3}}, "encoding": {"x": {"field": "x", "type": "quantitative", "title": "M²"}, "y": {"field": "c", "type": "quantitative", "title": "F₂(M)"}, "yError": {"field": "ce"}}},
    {"data": {"name": "top"}, "mark": {"type": "circle", "color": "black", "size": 65, "opacity": 1},
     "encoding": {
      "x": {"field": "x", "type": "quantitative", "scale": {"domain": [0, 23700], "nice": false, "zero": false},
            "axis": {"values": [0,1000,2000,3000,4000,5000,6000,7000,8000,9000,10000,11000,12000,13000,14000,15000,16000,17000,18000,19000,20000,21000,22000,23000], "tickCount": 100,
                     "labelExpr": "datum.value % 5000 != 0 ? '' : datum.value >= 10000 ? floor(datum.value / 1000) + '\u2009000' : '' + datum.value",
                     "tickSize": {"condition": {"test": "datum.value % 5000 == 0", "value": 8}, "value": 5},
                     "labelOverlap": false, "labelPadding": 0, "minExtent": 40, "maxExtent": 40,
                     "title": "M²", "titleX": 360.4, "titleY": 30, "titleAlign": "left", "titleBaseline": "alphabetic", "titleAngle": 0}},
      "y": {"field": "c", "type": "quantitative", "scale": {"domain": [2, 4.2], "nice": false, "zero": false},
            "axis": {"values": [2,2.1,2.2,2.3,2.4,2.5,2.6,2.7,2.8,2.9,3,3.1,3.2,3.3,3.4,3.5,3.6,3.7,3.8,3.9,4,4.1,4.2], "tickCount": 100,
                     "labelExpr": "abs(datum.value*2 - round(datum.value*2)) < 1e-6 ? format(datum.value, '.1f') : ''",
                     "tickSize": {"condition": {"test": "abs(datum.value*2 - round(datum.value*2)) < 1e-6", "value": 8}, "value": 4},
                     "labelOverlap": false, "labelPadding": 7, "minExtent": 125, "maxExtent": 125,
                     "title": "F₂(M)", "titleX": -42.8, "titleY": -12, "titleAlign": "left", "titleBaseline": "alphabetic", "titleAngle": 0}}
     }},
    {"data": {"values": [{}]}, "mark": {"type": "rule", "color": "black", "strokeWidth": 1.5}, "encoding": {"x": {"datum": 12155}, "x2": {"datum": 16735}, "y": {"datum": 2.385}}},
    {"data": {"values": [{}]}, "mark": {"type": "tick", "orient": "vertical", "color": "black", "size": 9, "thickness": 1.5}, "encoding": {"x": {"datum": 12155}, "y": {"datum": 2.385}}},
    {"data": {"values": [{}]}, "mark": {"type": "tick", "orient": "vertical", "color": "black", "size": 9, "thickness": 1.5}, "encoding": {"x": {"datum": 16735}, "y": {"datum": 2.385}}},
    {"data": {"values": [{}]}, "mark": {"type": "circle", "color": "black", "size": 70, "opacity": 1}, "encoding": {"x": {"datum": 14390}, "y": {"datum": 2.385}}},
    {"data": {"values": [{}]}, "mark": {"type": "rule", "color": "#e32b24", "strokeWidth": 1.5}, "encoding": {"x": {"datum": 12155}, "x2": {"datum": 16735}, "y": {"datum": 2.166}}},
    {"data": {"values": [{}]}, "mark": {"type": "tick", "orient": "vertical", "color": "#e32b24", "size": 9, "thickness": 1.5}, "encoding": {"x": {"datum": 12155}, "y": {"datum": 2.166}}},
    {"data": {"values": [{}]}, "mark": {"type": "tick", "orient": "vertical", "color": "#e32b24", "size": 9, "thickness": 1.5}, "encoding": {"x": {"datum": 16735}, "y": {"datum": 2.166}}},
    {"data": {"values": [{}]}, "mark": {"type": "point", "shape": "triangle-up", "filled": true, "color": "#e32b24", "size": 80, "opacity": 1}, "encoding": {"x": {"datum": 14390}, "y": {"datum": 2.166}}},
    {"data": {"values": [{}]}, "mark": {"type": "text", "text": "Data", "align": "right", "baseline": "middle"}, "encoding": {"x": {"datum": 11490}, "y": {"datum": 2.385}}},
    {"data": {"values": [{}]}, "mark": {"type": "text", "text": "Mixed", "align": "right", "baseline": "middle"}, "encoding": {"x": {"datum": 11490}, "y": {"datum": 2.166}}},
    {"data": {"values": [{}]}, "mark": {"type": "text", "text": "Ar + Sc, 10–15%", "align": "left", "baseline": "alphabetic"}, "encoding": {"x": {"datum": 1570}, "y": {"datum": 3.96}}}
   ]
  }
 ],
 "spacing": 27.5,
 "title": {"text": "NA61/SHINE preliminary", "orient": "bottom", "anchor": "start", "frame": "bounds", "dx": 447, "offset": 31, "fontSize": 18, "fontWeight": "normal", "font": "Liberation Serif", "color": "black"}
},
{
 "hconcat": [
  {
   "width": 386, "height": 272,
   "layer": [
    {"data": {"values": [{}]}, "mark": {"type": "rect", "color": "#f3f7fa"}, "encoding": {"x": {"datum": 19.4}, "x2": {"datum": 26300}, "y": {"datum": -0.066}, "y2": {"datum": 0.67}}},
    {"data": {"values": [{}]}, "mark": {"type": "rect", "color": "white"}, "encoding": {"x": {"datum": 19.4}, "x2": {"datum": 4400}, "y": {"datum": 0.21}, "y2": {"datum": 0.67}}},
    {"data": {"values": [{}]}, "mark": {"type": "rule", "color": "#a9d3ee", "strokeWidth": 3, "strokeDash": [4, 4], "opacity": 0.8}, "encoding": {"x": {"datum": 12}, "x2": {"datum": 22800}, "y": {"datum": 0}}},
    {"data": {"name": "bot"}, "mark": {"type": "errorbar", "color": "black", "size": 5, "thickness": 1.2, "ticks": {"opacity": 0.45}, "rule": {"opacity": 0.45}}, "encoding": {"x": {"field": "x", "type": "quantitative", "title": "M²"}, "y": {"field": "f", "type": "quantitative", "title": "ΔF₂(M)"}, "yError": {"field": "fe"}}},
    {"data": {"name": "bot"}, "mark": {"type": "circle", "color": "black", "size": 65, "opacity": 1},
     "encoding": {
      "x": {"field": "x", "type": "quantitative", "scale": {"type": "log", "domain": [10, 35000], "nice": false},
            "axis": {"values": [10,20,30,40,50,60,70,80,90,100,200,300,400,500,600,700,800,900,1000,2000,3000,4000,5000,6000,7000,8000,9000,10000,20000,30000], "tickCount": 100,
                     "labelExpr": "datum.value == 10 ? '10' : datum.value == 100 ? '100' : datum.value == 1000 ? '1000' : datum.value == 10000 ? '10\u2009000' : ''",
                     "tickSize": {"condition": {"test": "datum.value == 10 || datum.value == 100 || datum.value == 1000 || datum.value == 10000", "value": 8}, "value": 4},
                     "labelOverlap": false, "labelPadding": 4,
                     "title": "M²", "titleX": 370.4, "titleY": 28.4, "titleAlign": "left", "titleBaseline": "alphabetic", "titleAngle": 0}},
      "y": {"field": "f", "type": "quantitative", "scale": {"domain": [-0.25, 1], "nice": false, "zero": false},
            "axis": {"values": [-0.25,-0.2,-0.15,-0.1,-0.05,0,0.05,0.1,0.15,0.2,0.25,0.3,0.35,0.4,0.45,0.5,0.55,0.6,0.65,0.7,0.75,0.8,0.85,0.9,0.95,1], "tickCount": 100,
                     "labelExpr": "abs(datum.value*4 - round(datum.value*4)) > 1e-6 ? '' : abs(datum.value) < 1e-9 ? '0' : datum.value == 1 ? '1' : datum.value < 0 ? '–0.25' : format(datum.value, '.2f')",
                     "tickSize": {"condition": {"test": "abs(datum.value*4 - round(datum.value*4)) < 1e-6", "value": 8}, "value": 4},
                     "labelOverlap": false, "labelPadding": 11, "minExtent": 125, "maxExtent": 125,
                     "title": "ΔF₂(M)", "titleX": -6.7, "titleY": -17.7, "titleAlign": "left", "titleBaseline": "alphabetic", "titleAngle": 0}}
     }},
    {"data": {"name": "fitL"}, "mark": {"type": "line", "color": "#e32b24", "strokeWidth": 3.5, "interpolate": "monotone"}, "encoding": {"x": {"field": "x", "type": "quantitative", "title": "M²"}, "y": {"field": "y", "type": "quantitative", "title": "ΔF₂(M)"}}},
    {"data": {"values": [{}]}, "mark": {"type": "rule", "color": "black", "strokeWidth": 1.5}, "encoding": {"x": {"datum": 824}, "x2": {"datum": 3870}, "y": {"datum": 0.6935}}},
    {"data": {"values": [{}]}, "mark": {"type": "tick", "orient": "vertical", "color": "black", "size": 9, "thickness": 1.5}, "encoding": {"x": {"datum": 824}, "y": {"datum": 0.6935}}},
    {"data": {"values": [{}]}, "mark": {"type": "tick", "orient": "vertical", "color": "black", "size": 9, "thickness": 1.5}, "encoding": {"x": {"datum": 3870}, "y": {"datum": 0.6935}}},
    {"data": {"values": [{}]}, "mark": {"type": "circle", "color": "black", "size": 70, "opacity": 1}, "encoding": {"x": {"datum": 1754}, "y": {"datum": 0.6935}}},
    {"data": {"values": [{}]}, "mark": {"type": "rule", "color": "#e32b24", "strokeWidth": 2}, "encoding": {"x": {"datum": 824}, "x2": {"datum": 3870}, "y": {"datum": 0.567}}},
    {"data": {"values": [{}]}, "mark": {"type": "tick", "orient": "vertical", "color": "#e32b24", "size": 9, "thickness": 1.5}, "encoding": {"x": {"datum": 824}, "y": {"datum": 0.567}}},
    {"data": {"values": [{}]}, "mark": {"type": "tick", "orient": "vertical", "color": "#e32b24", "size": 9, "thickness": 1.5}, "encoding": {"x": {"datum": 3870}, "y": {"datum": 0.567}}},
    {"data": {"values": [{}]}, "mark": {"type": "text", "text": "Data", "align": "right", "baseline": "middle"}, "encoding": {"x": {"datum": 646}, "y": {"datum": 0.6935}}},
    {"data": {"values": [{}]}, "mark": {"type": "text", "text": "Power law fit", "align": "right", "baseline": "middle"}, "encoding": {"x": {"datum": 646}, "y": {"datum": 0.567}}},
    {"data": {"values": [{}]}, "mark": {"type": "text", "text": "Ar + Sc, 5–10%", "align": "left", "baseline": "alphabetic"}, "encoding": {"x": {"datum": 15.6}, "y": {"datum": 0.885}}},
    {"data": {"values": [{}]}, "mark": {"type": "text", "text": "ϕ", "align": "left", "baseline": "alphabetic", "fontSize": 24, "fontStyle": "italic", "font": "DejaVu Serif"}, "encoding": {"x": {"datum": 42.2}, "y": {"datum": 0.308}}},
    {"data": {"values": [{}]}, "mark": {"type": "text", "text": "2,B", "align": "left", "baseline": "alphabetic", "fontSize": 17, "fontStyle": "italic", "dx": 21.7, "dy": 3}, "encoding": {"x": {"datum": 42.2}, "y": {"datum": 0.308}}},
    {"data": {"values": [{}]}, "mark": {"type": "text", "text": "=", "align": "left", "baseline": "alphabetic", "fontSize": 25, "dx": 55}, "encoding": {"x": {"datum": 42.2}, "y": {"datum": 0.308}}},
    {"data": {"values": [{}]}, "mark": {"type": "text", "text": "0.36", "align": "left", "baseline": "alphabetic", "fontSize": 25, "dx": 79}, "encoding": {"x": {"datum": 42.2}, "y": {"datum": 0.308}}},
    {"data": {"values": [{}]}, "mark": {"type": "text", "text": "+0.07", "align": "left", "baseline": "alphabetic", "fontSize": 17, "dx": 121.7, "dy": -20}, "encoding": {"x": {"datum": 42.2}, "y": {"datum": 0.308}}},
    {"data": {"values": [{}]}, "mark": {"type": "text", "text": "–0.08", "align": "left", "baseline": "alphabetic", "fontSize": 17, "dx": 123.3, "dy": 2}, "encoding": {"x": {"datum": 42.2}, "y": {"datum": 0.308}}}
   ]
  },
  {
   "width": 384, "height": 272,
   "layer": [
    {"data": {"values": [{}]}, "mark": {"type": "rect", "color": "#f3f7fa"}, "encoding": {"x": {"datum": 13}, "x2": {"datum": 26600}, "y": {"datum": -0.066}, "y2": {"datum": 0.77}}},
    {"data": {"values": [{}]}, "mark": {"type": "rect", "color": "white"}, "encoding": {"x": {"datum": 13}, "x2": {"datum": 4400}, "y": {"datum": 0.21}, "y2": {"datum": 0.77}}},
    {"data": {"values": [{}]}, "mark": {"type": "rule", "color": "#a9d3ee", "strokeWidth": 3, "strokeDash": [4, 4], "opacity": 0.8}, "encoding": {"x": {"datum": 12}, "x2": {"datum": 22800}, "y": {"datum": 0}}},
    {"data": {"name": "bot"}, "mark": {"type": "errorbar", "color": "black", "size": 5, "thickness": 1.2, "ticks": {"opacity": 0.45}, "rule": {"opacity": 0.45}}, "encoding": {"x": {"field": "x", "type": "quantitative", "title": "M²"}, "y": {"field": "g", "type": "quantitative", "title": "ΔF₂(M)"}, "yError": {"field": "ge"}}},
    {"data": {"name": "bot"}, "mark": {"type": "circle", "color": "black", "size": 65, "opacity": 1},
     "encoding": {
      "x": {"field": "x", "type": "quantitative", "scale": {"type": "log", "domain": [10, 35000], "nice": false},
            "axis": {"values": [10,20,30,40,50,60,70,80,90,100,200,300,400,500,600,700,800,900,1000,2000,3000,4000,5000,6000,7000,8000,9000,10000,20000,30000], "tickCount": 100,
                     "labelExpr": "datum.value == 10 ? '10' : datum.value == 100 ? '100' : datum.value == 1000 ? '1000' : datum.value == 10000 ? '10\u2009000' : ''",
                     "tickSize": {"condition": {"test": "datum.value == 10 || datum.value == 100 || datum.value == 1000 || datum.value == 10000", "value": 8}, "value": 4},
                     "labelOverlap": false, "labelPadding": 4,
                     "title": "M²", "titleX": 368.4, "titleY": 28.4, "titleAlign": "left", "titleBaseline": "alphabetic", "titleAngle": 0}},
      "y": {"field": "g", "type": "quantitative", "scale": {"domain": [-0.25, 1], "nice": false, "zero": false},
            "axis": {"values": [-0.25,-0.2,-0.15,-0.1,-0.05,0,0.05,0.1,0.15,0.2,0.25,0.3,0.35,0.4,0.45,0.5,0.55,0.6,0.65,0.7,0.75,0.8,0.85,0.9,0.95,1], "tickCount": 100,
                     "labelExpr": "abs(datum.value*4 - round(datum.value*4)) > 1e-6 ? '' : abs(datum.value) < 1e-9 ? '0' : datum.value == 1 ? '1' : datum.value < 0 ? '–0.25' : format(datum.value, '.2f')",
                     "tickSize": {"condition": {"test": "abs(datum.value*4 - round(datum.value*4)) < 1e-6", "value": 8}, "value": 4},
                     "labelOverlap": false, "labelPadding": 13, "minExtent": 125, "maxExtent": 125,
                     "title": "ΔF₂(M)", "titleX": -8.7, "titleY": -17.7, "titleAlign": "left", "titleBaseline": "alphabetic", "titleAngle": 0}}
     }},
    {"data": {"name": "fitR"}, "mark": {"type": "line", "color": "#e32b24", "strokeWidth": 3.5, "interpolate": "monotone"}, "encoding": {"x": {"field": "x", "type": "quantitative", "title": "M²"}, "y": {"field": "y", "type": "quantitative", "title": "ΔF₂(M)"}}},
    {"data": {"values": [{}]}, "mark": {"type": "rule", "color": "black", "strokeWidth": 1.5}, "encoding": {"x": {"datum": 834}, "x2": {"datum": 3840}, "y": {"datum": 0.69}}},
    {"data": {"values": [{}]}, "mark": {"type": "tick", "orient": "vertical", "color": "black", "size": 9, "thickness": 1.5}, "encoding": {"x": {"datum": 834}, "y": {"datum": 0.69}}},
    {"data": {"values": [{}]}, "mark": {"type": "tick", "orient": "vertical", "color": "black", "size": 9, "thickness": 1.5}, "encoding": {"x": {"datum": 3840}, "y": {"datum": 0.69}}},
    {"data": {"values": [{}]}, "mark": {"type": "circle", "color": "black", "size": 70, "opacity": 1}, "encoding": {"x": {"datum": 1782}, "y": {"datum": 0.69}}},
    {"data": {"values": [{}]}, "mark": {"type": "rule", "color": "#e32b24", "strokeWidth": 2}, "encoding": {"x": {"datum": 834}, "x2": {"datum": 3840}, "y": {"datum": 0.5676}}},
    {"data": {"values": [{}]}, "mark": {"type": "tick", "orient": "vertical", "color": "#e32b24", "size": 9, "thickness": 1.5}, "encoding": {"x": {"datum": 834}, "y": {"datum": 0.5676}}},
    {"data": {"values": [{}]}, "mark": {"type": "tick", "orient": "vertical", "color": "#e32b24", "size": 9, "thickness": 1.5}, "encoding": {"x": {"datum": 3840}, "y": {"datum": 0.5676}}},
    {"data": {"values": [{}]}, "mark": {"type": "text", "text": "Data", "align": "right", "baseline": "middle"}, "encoding": {"x": {"datum": 651}, "y": {"datum": 0.69}}},
    {"data": {"values": [{}]}, "mark": {"type": "text", "text": "Power law fit", "align": "right", "baseline": "middle"}, "encoding": {"x": {"datum": 651}, "y": {"datum": 0.5676}}},
    {"data": {"values": [{}]}, "mark": {"type": "text", "text": "Ar + Sc, 10–15%", "align": "left", "baseline": "alphabetic"}, "encoding": {"x": {"datum": 15.9}, "y": {"datum": 0.881}}},
    {"data": {"values": [{}]}, "mark": {"type": "text", "text": "ϕ", "align": "left", "baseline": "alphabetic", "fontSize": 24, "fontStyle": "italic", "font": "DejaVu Serif"}, "encoding": {"x": {"datum": 42.6}, "y": {"datum": 0.306}}},
    {"data": {"values": [{}]}, "mark": {"type": "text", "text": "2,B", "align": "left", "baseline": "alphabetic", "fontSize": 17, "fontStyle": "italic", "dx": 21.7, "dy": 3}, "encoding": {"x": {"datum": 42.6}, "y": {"datum": 0.306}}},
    {"data": {"values": [{}]}, "mark": {"type": "text", "text": "=", "align": "left", "baseline": "alphabetic", "fontSize": 25, "dx": 55}, "encoding": {"x": {"datum": 42.6}, "y": {"datum": 0.306}}},
    {"data": {"values": [{}]}, "mark": {"type": "text", "text": "0.50", "align": "left", "baseline": "alphabetic", "fontSize": 25, "dx": 79}, "encoding": {"x": {"datum": 42.6}, "y": {"datum": 0.306}}},
    {"data": {"values": [{}]}, "mark": {"type": "text", "text": "+0.05", "align": "left", "baseline": "alphabetic", "fontSize": 17, "dx": 121.7, "dy": -20}, "encoding": {"x": {"datum": 42.6}, "y": {"datum": 0.306}}},
    {"data": {"values": [{}]}, "mark": {"type": "text", "text": "–0.05", "align": "left", "baseline": "alphabetic", "fontSize": 17, "dx": 123.3, "dy": 2}, "encoding": {"x": {"datum": 42.6}, "y": {"datum": 0.306}}}
   ]
  }
 ],
 "spacing": 19.5
}
]
}
